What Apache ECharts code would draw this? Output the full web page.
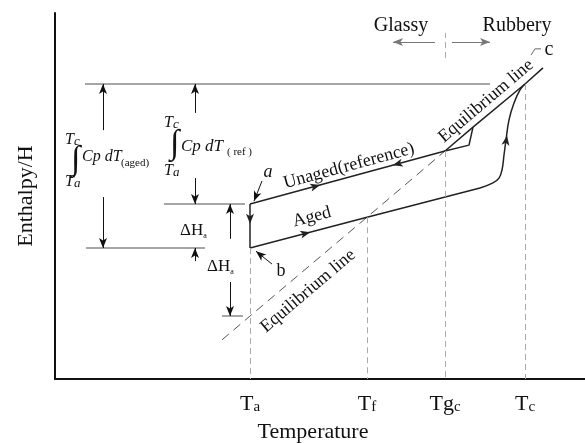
<!DOCTYPE html>
<html>
<head>
<meta charset="utf-8">
<script src="https://cdn.jsdelivr.net/npm/echarts@6/dist/echarts.min.js"></script>
<style>
  html, body { margin: 0; padding: 0; background: #fff; }
  #chart { width: 585px; height: 443px; }
</style>
</head>
<body>
<div id="chart"></div>
<script>
// Temperature landmarks on the axis: main symbol + subscript
const tempMains = ['T', 'T', 'Tg', 'T'];
const tempSubs = ['a', 'f', 'c', 'c'];
const tempValues = [39, 62.4, 78, 94];

// Equilibrium enthalpy line: dashed below Tg_c, solid above it
const equilibriumGlassy = [[33.4, 10.7], [39, 17.2], [62.4, 44.2], [78, 62.3]];
const equilibriumRubbery = [[78, 62.3], [83.6, 68.8], [94, 80.6], [97.6, 85]];

// Unaged (reference) path: a -> Tg_c, small overshoot back onto the equilibrium line
const unaged = [[39, 47.8], [78, 62.3], [82.8, 63.9], [83.6, 68.8]];

// Aged path: b -> Tf -> recovery -> c
const agedGlass = [[39, 35.8], [62.4, 44.2], [85, 52.2]];
const agedRecovery = [[85, 52.2], [87.6, 53.6], [88.8, 54.9], [89.4, 57.1], [89.8, 61.2],
                      [90.2, 65.3], [90.8, 70.8], [91.8, 75.4], [93, 79], [94, 80.6]];

// Ageing step a -> b at Ta
const ageingStep = [[39, 47.8], [39, 35.8]];

// Marked states a, b, c
const states = [[39, 47.8], [39, 35.8], [94, 80.6]];

// Drop lines from each landmark to the axis: [T, H]
const dropLines = [[39, 35.8], [62.4, 44.2], [78, 62.3], [94, 80.6]];

// Reference enthalpy levels: [H, from T, to T]
const levels = [[80.6, 6, 87], [47.8, 21.8, 38], [35.8, 6.2, 30], [17.2, 33.4, 37.6]];

// Dimension arrows: [T, from H, to H] (head at "to")
const dimArrows = [[9.6, 68.0, 80.6], [9.6, 49.7, 35.8],
                   [28, 72.7, 80.6], [28, 54.9, 47.8], [28, 32.2, 35.8],
                   [35, 38.3, 47.8], [35, 26.5, 17.2]];

// Leader arrows for labels a and b: [from, to]
const leaders = [[[41.4, 54.1], [39.8, 48.6]], [[43.4, 31.4], [40.2, 34.9]]];
const cLeader = [[95.2, 88.5], [96, 90.2], [97.2, 90.2]];

// Flow direction markers: [point, direction]
const flowArrows = [[[53, 53.0], [1, 0.372]], [[67.6, 58.4], [-1, -0.372]],
                    [[51, 40.1], [1, 0.3565]], [[39, 42.5], [0, -1]],
                    [[90.4, 66.5], [0.12, 1]]];

// Glassy / rubbery regime arrows and divider
const regimeArrows = [[[76, 92.1], [67.6, 92.1]], [[79.4, 92.1], [87, 92.1]]];
const regimeDivider = [[78, 87.7], [78, 94.5]];

const FONT = 'Liberation Serif';
const INK = '#222';

function seg(a, b) { return [{ coord: a }, { coord: b }]; }

// rich-text pieces for a symbol with subscript
function subRich(mainFont, subFont, lh, pad) {
  return {
    m: { font: mainFont, fill: '#111', verticalAlign: 'top', lineHeight: lh },
    s: { font: subFont, fill: '#111', verticalAlign: 'bottom', lineHeight: 10, padding: [pad, 0, 0, 0] }
  };
}

const chart = echarts.init(document.getElementById('chart'), null, { renderer: 'canvas' });

const lineBase = { type: 'line', symbol: 'none', silent: true, animation: false };

const option = {
  animation: false,
  grid: { left: 55, right: 0, top: 13, bottom: 64, outerBoundsMode: 'none', containLabel: false },
  xAxis: {
    type: 'value', min: 0, max: 106,
    name: 'Temperature', nameLocation: 'middle', nameGap: 42,
    nameTextStyle: { fontFamily: FONT, fontSize: 22, color: '#111', padding: [0, 14, 0, 0] },
    axisLine: { lineStyle: { color: '#111', width: 2 } },
    axisTick: { show: false },
    splitLine: { show: false },
    axisLabel: {
      customValues: tempValues,
      margin: 14,
      formatter: function (v) {
        const i = tempValues.indexOf(v);
        return '{m|' + tempMains[i] + '}{s|' + tempSubs[i] + '}';
      },
      rich: {
        m: { fontFamily: FONT, fontSize: 22, color: '#111', verticalAlign: 'top', lineHeight: 22 },
        s: { fontFamily: FONT, fontSize: 15, color: '#111', verticalAlign: 'bottom', lineHeight: 15, padding: [10, 0, 0, 0] }
      }
    }
  },
  yAxis: {
    type: 'value', min: 0, max: 100,
    name: 'Enthalpy/H', nameLocation: 'middle', nameGap: 18, nameRotate: 90,
    nameTextStyle: { fontFamily: FONT, fontSize: 22, color: '#111' },
    axisLine: { show: true, lineStyle: { color: '#111', width: 2 } },
    axisTick: { show: false },
    axisLabel: { show: false },
    splitLine: { show: false }
  },
  series: [
    // equilibrium line (glassy extrapolation, dashed)
    Object.assign({}, lineBase, { data: equilibriumGlassy, lineStyle: { color: '#555', width: 1, type: [9, 6] } }),
    // equilibrium line (rubbery, solid)
    Object.assign({}, lineBase, { data: equilibriumRubbery, lineStyle: { color: INK, width: 1.5 } }),
    // unaged path
    Object.assign({}, lineBase, { data: unaged, lineStyle: { color: INK, width: 1.5 } }),
    // aged path
    Object.assign({}, lineBase, { data: agedGlass, lineStyle: { color: INK, width: 1.5 } }),
    Object.assign({}, lineBase, { data: agedRecovery, smooth: 0.4, lineStyle: { color: INK, width: 1.5 } }),
    // ageing step
    Object.assign({}, lineBase, { data: ageingStep, lineStyle: { color: INK, width: 1.5 } }),
    // drop lines to the axis
    Object.assign({}, lineBase, {
      data: [],
      markLine: {
        silent: true, symbol: ['none', 'none'], animation: false, label: { show: false },
        lineStyle: { color: '#aaa', width: 1, type: [6, 4] },
        data: dropLines.map(d => seg([d[0], d[1]], [d[0], 0])).concat([seg(regimeDivider[0], regimeDivider[1])])
      }
    }),
    // enthalpy reference levels
    Object.assign({}, lineBase, {
      data: [],
      markLine: {
        silent: true, symbol: ['none', 'none'], animation: false, label: { show: false },
        lineStyle: { color: '#888', width: 1.5, type: 'solid' },
        data: levels.map(l => seg([l[1], l[0]], [l[2], l[0]]))
      }
    }),
    // dimension arrows and label leaders
    Object.assign({}, lineBase, {
      data: [],
      markLine: {
        silent: true, symbol: ['none', 'arrow'], symbolSize: [6, 10], animation: false, label: { show: false },
        lineStyle: { color: '#111', width: 1, type: 'solid' },
        data: dimArrows.map(a => seg([a[0], a[1]], [a[0], a[2]]))
          .concat(leaders.map(l => seg(l[0], l[1])))
      }
    }),
    // regime arrows
    Object.assign({}, lineBase, {
      data: [],
      markLine: {
        silent: true, symbol: ['none', 'arrow'], symbolSize: [6, 10], animation: false, label: { show: false },
        lineStyle: { color: '#777', width: 1, type: 'solid' },
        data: regimeArrows.map(r => seg(r[0], r[1]))
      }
    }),
    // c label leader
    Object.assign({}, lineBase, { data: cLeader, lineStyle: { color: '#666', width: 1 } }),
    // flow direction arrowheads
    Object.assign({}, lineBase, {
      data: [],
      markLine: {
        silent: true, symbol: ['none', 'arrow'], symbolSize: [6, 10], animation: false, label: { show: false },
        lineStyle: { color: INK, width: 1, type: 'solid' },
        data: flowArrows.map(f => seg(f[0], [f[0][0] + f[1][0] * 0.05, f[0][1] + f[1][1] * 0.05]))
      }
    }),
    // state markers
    {
      type: 'scatter', silent: true, animation: false, data: states,
      symbol: 'emptyCircle', symbolSize: 9,
      itemStyle: { color: '#fff', borderColor: '#666', borderWidth: 1 }
    }
  ],
  graphic: [
    { type: 'text', x: 401, y: 26, style: { text: 'Glassy', font: '20px ' + FONT, fill: '#111', align: 'center', verticalAlign: 'middle' } },
    { type: 'text', x: 517, y: 26, style: { text: 'Rubbery', font: '20px ' + FONT, fill: '#111', align: 'center', verticalAlign: 'middle' } },
    { type: 'text', x: 549, y: 50, style: { text: 'c', font: '20px ' + FONT, fill: '#111', align: 'center', verticalAlign: 'middle' } },
    { type: 'text', x: 268, y: 172, style: { text: 'a', font: 'italic 18px ' + FONT, fill: '#111', align: 'center', verticalAlign: 'middle' } },
    { type: 'text', x: 281, y: 271, style: { text: 'b', font: '18px ' + FONT, fill: '#111', align: 'center', verticalAlign: 'middle' } },
    { type: 'text', x: 349, y: 166, rotation: 15.2 * Math.PI / 180,
      style: { text: 'Unaged(reference)', font: '18px ' + FONT, fill: '#111', align: 'center', verticalAlign: 'middle' } },
    { type: 'text', x: 312, y: 217, rotation: 14.6 * Math.PI / 180,
      style: { text: 'Aged', font: '18px ' + FONT, fill: '#111', align: 'center', verticalAlign: 'middle' } },
    { type: 'text', x: 308, y: 291, rotation: 40.3 * Math.PI / 180,
      style: { text: 'Equilibrium line', font: '18px ' + FONT, fill: '#111', align: 'center', verticalAlign: 'middle' } },
    { type: 'text', x: 486, y: 101, rotation: 40.3 * Math.PI / 180,
      style: { text: 'Equilibrium line', font: '18px ' + FONT, fill: '#111', align: 'center', verticalAlign: 'middle' } },
    // ΔHa labels
    { type: 'text', x: 180, y: 231, style: { text: '{m|ΔH}{s|a}', verticalAlign: 'middle',
        rich: subRich('17px ' + FONT, '8px ' + FONT, 18, 9) } },
    { type: 'text', x: 207, y: 267, style: { text: '{m|ΔH}{s|a}', verticalAlign: 'middle',
        rich: subRich('17px ' + FONT, '8px ' + FONT, 18, 9) } },
    // integral over the aged path
    { type: 'text', x: 65, y: 140, style: { text: '{m|T}{s|c}', verticalAlign: 'middle',
        rich: subRich('italic 16px ' + FONT, 'italic 13px ' + FONT, 17, 8) } },
    { type: 'text', x: 71, y: 160, style: { text: '∫', font: '34px ' + FONT, fill: '#111', verticalAlign: 'middle' } },
    { type: 'text', x: 82, y: 157, style: { text: 'Cp dT', font: 'italic 16px ' + FONT, fill: '#111', verticalAlign: 'middle' } },
    { type: 'text', x: 121, y: 163, style: { text: '(aged)', font: '11px ' + FONT, fill: '#111', verticalAlign: 'middle' } },
    { type: 'text', x: 65, y: 182, style: { text: '{m|T}{s|a}', verticalAlign: 'middle',
        rich: subRich('italic 16px ' + FONT, 'italic 13px ' + FONT, 17, 8) } },
    // integral over the reference path
    { type: 'text', x: 164, y: 123, style: { text: '{m|T}{s|c}', verticalAlign: 'middle',
        rich: subRich('italic 16px ' + FONT, 'italic 13px ' + FONT, 17, 8) } },
    { type: 'text', x: 170, y: 144, style: { text: '∫', font: '34px ' + FONT, fill: '#111', verticalAlign: 'middle' } },
    { type: 'text', x: 181, y: 147, style: { text: 'Cp dT', font: 'italic 17px ' + FONT, fill: '#111', verticalAlign: 'middle' } },
    { type: 'text', x: 227, y: 152, style: { text: '( ref )', font: '11px ' + FONT, fill: '#111', verticalAlign: 'middle' } },
    { type: 'text', x: 164, y: 171, style: { text: '{m|T}{s|a}', verticalAlign: 'middle',
        rich: subRich('italic 16px ' + FONT, 'italic 13px ' + FONT, 17, 8) } }
  ]
};

chart.setOption(option);
</script>
</body>
</html>
